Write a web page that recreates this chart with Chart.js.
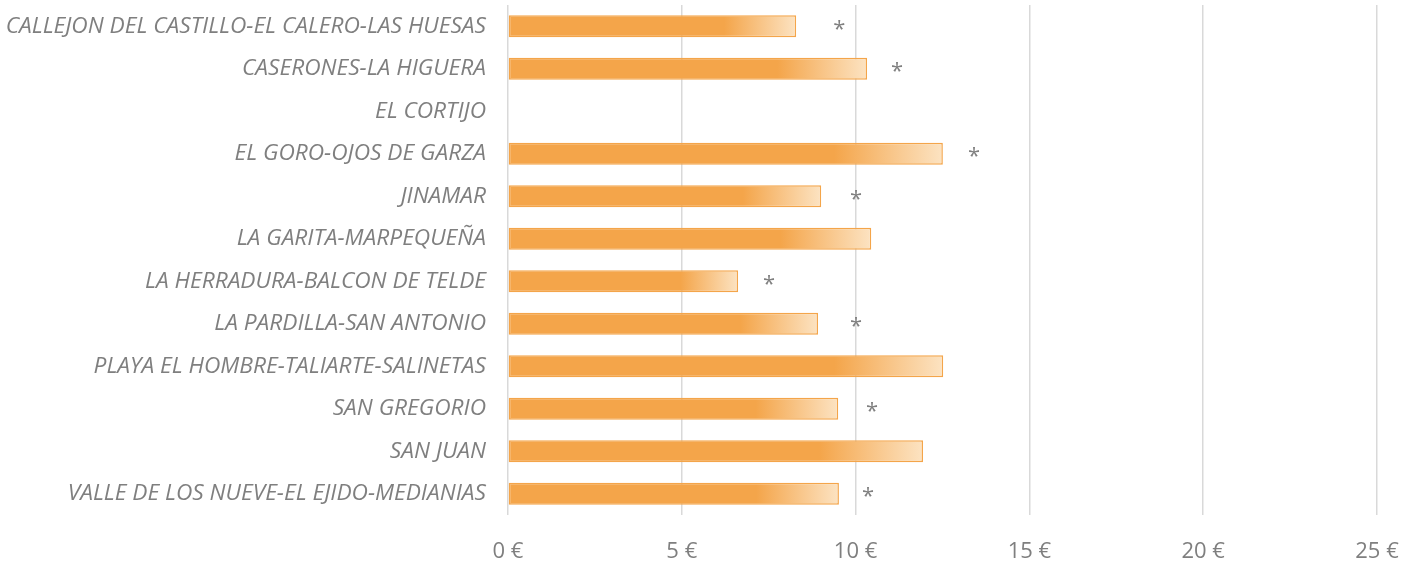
<!DOCTYPE html>
<html><head><meta charset="utf-8">
<script src="https://cdn.jsdelivr.net/npm/chart.js@4/dist/chart.umd.min.js"></script>
<style>html,body{margin:0;padding:0;background:#fff}#wrap{width:1416px;height:567px}</style>
</head><body><div id="wrap"><canvas id="c" width="1416" height="567"></canvas></div>
<script>
const categories = ["CALLEJON DEL CASTILLO-EL CALERO-LAS HUESAS","CASERONES-LA HIGUERA","EL CORTIJO","EL GORO-OJOS DE GARZA","JINAMAR","LA GARITA-MARPEQUEÑA","LA HERRADURA-BALCON DE TELDE","LA PARDILLA-SAN ANTONIO","PLAYA EL HOMBRE-TALIARTE-SALINETAS","SAN GREGORIO","SAN JUAN","VALLE DE LOS NUEVE-EL EJIDO-MEDIANIAS"];
const values = [8.29, 10.33, null, 12.51, 9.01, 10.45, 6.62, 8.92, 12.52, 9.50, 11.94, 9.52];
const asteriskPos = [9.53, 11.19, null, 13.41, 10.01, null, 7.51, 10.01, null, 10.47, null, 10.36];
const tickValues = [0, 5, 10, 15, 20, 25];

const FONT = "'Open Sans', Lato, sans-serif";
const solid = '#F4A54A';
const light = '#FCE3C2';

const asteriskPlugin = {
  id: 'asterisks',
  afterDatasetsDraw(chart) {
    const ctx = chart.ctx, x = chart.scales.x, y = chart.scales.y;
    ctx.save();
    ctx.fillStyle = '#808080';
    ctx.font = '22px ' + FONT;
    ctx.textAlign = 'center';
    ctx.textBaseline = 'middle';
    asteriskPos.forEach((v, i) => {
      if (v == null) return;
      ctx.fillText('*', x.getPixelForValue(v), y.getPixelForValue(i) + 3);
    });
    ctx.restore();
  }
};

new Chart(document.getElementById('c'), {
  type: 'bar',
  data: {
    labels: categories,
    datasets: [{
      data: values,
      backgroundColor(c) {
        const chart = c.chart;
        const xs = chart.scales.x;
        if (!chart.chartArea || !xs || c.raw == null) return solid;
        const x0 = xs.getPixelForValue(0), x1 = xs.getPixelForValue(c.raw);
        const g = chart.ctx.createLinearGradient(x0, 0, x1, 0);
        g.addColorStop(0, solid);
        g.addColorStop(0.75, solid);
        g.addColorStop(1, light);
        return g;
      },
      borderColor: solid,
      borderWidth: 1.5,
      borderSkipped: false,
      barPercentage: 0.52,
      categoryPercentage: 1.0
    }]
  },
  options: {
    indexAxis: 'y',
    responsive: false,
    animation: false,
    layout: { padding: { top: 5, right: 39, left: 0, bottom: 0 } },
    plugins: { legend: { display: false }, tooltip: { enabled: false } },
    scales: {
      x: {
        min: 0, max: 25,
        afterBuildTicks(s) { s.ticks = tickValues.map(v => ({ value: v })); },
        afterFit(s) { s.height = 52; s.paddingLeft = 0; s.paddingRight = 0; },
        grid: { color: '#D9D9D9', lineWidth: 1.5, drawTicks: false },
        border: { display: false },
        ticks: {
          padding: 24,
          color: '#7F7F7F',
          font: { family: FONT, size: 22 },
          callback: v => v + ' €'
        }
      },
      y: {
        afterFit(s) { s.width = 508; s.paddingTop = 0; s.paddingBottom = 0; },
        grid: { display: false, drawTicks: false },
        border: { display: false },
        ticks: {
          padding: 22,
          color: '#7F7F7F',
          font: { family: FONT, size: 22.7, style: 'italic' }
        }
      }
    }
  },
  plugins: [asteriskPlugin]
});
</script>
</body></html>
